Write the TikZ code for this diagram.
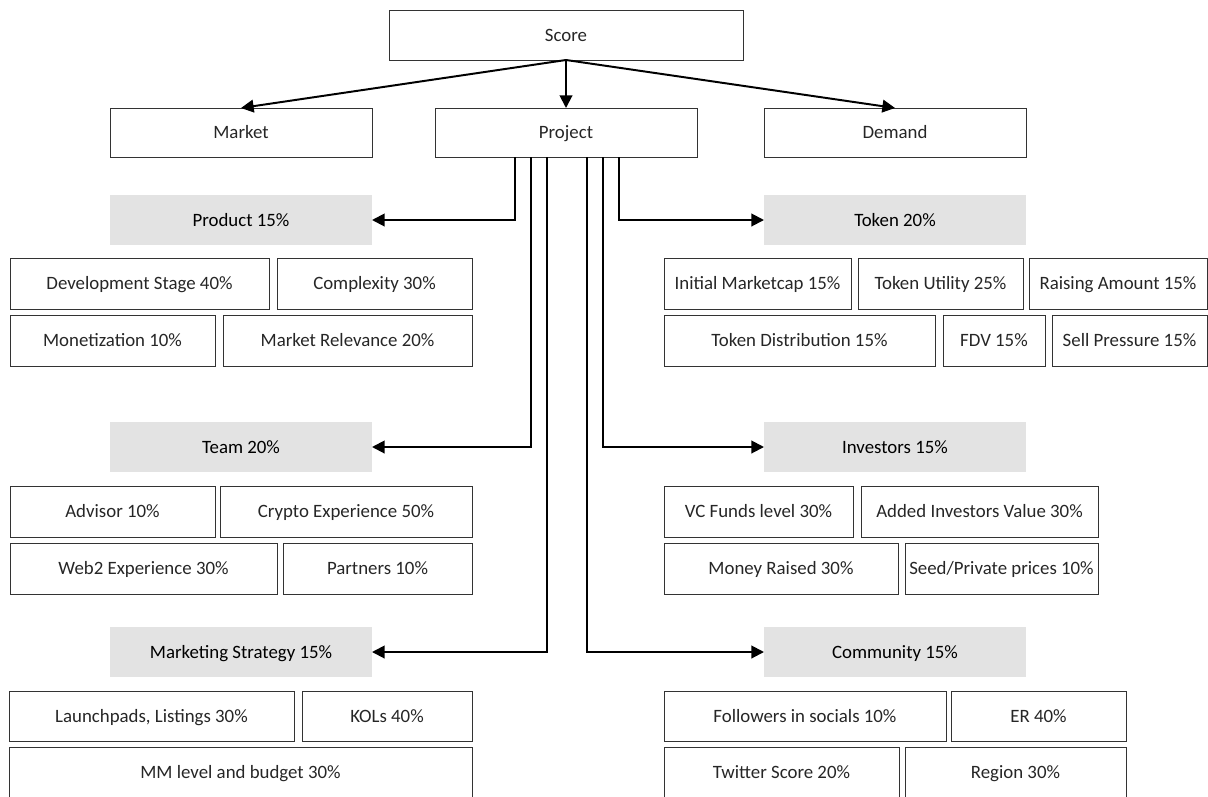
\documentclass[tikz,border=0pt]{standalone}
\usepackage{fontspec}
\setmainfont{Carlito}
\usepackage{tikz}
\usetikzlibrary{arrows.meta, calc}

% box from corner (x1,y1) to corner (x2,y2), in pixels
\newcommand{\cell}[7][box]{%
  \node[#1, minimum width={(#5-#3)*0.025cm}, minimum height={(#6-#4)*0.025cm}]
    (#2) at ({(#3+#5)/2},{(#4+#6)/2}) {#7};}

\begin{document}
\begin{tikzpicture}[x=0.025cm, y=-0.025cm,
    font=\fontsize{13.4}{16}\selectfont,
    box/.style={draw=black!80, line width=0.6pt, text=black!85, inner sep=0pt, outer sep=0pt,
      text height=10.5pt, text depth=1.5pt},
    head/.style={fill=black!11, text=black, inner sep=0pt, outer sep=0pt,
      text height=10.5pt, text depth=1.5pt},
    arr/.style={line width=1.4pt, -{Triangle[length=9pt,width=9pt]}}]
  \useasboundingbox (0,0) rectangle (1208,796);

  % Top levels
  \cell{score}{389}{10}{743}{60}{Score}
  \cell{market}{110}{108}{372}{157}{Market}
  \cell{project}{435}{108}{697}{157}{Project}
  \cell{demand}{764}{108}{1026}{157}{Demand}

  \draw[arr] (score.south) -- (market.north);
  \draw[arr] (score.south) -- (project.north);
  \draw[arr] (score.south) -- (demand.north);

  % Groups
  \cell[head]{product}{110}{195}{372}{245}{Product 15\%}
  \cell[head]{team}{110}{422}{372}{472}{Team 20\%}
  \cell[head]{marketing}{110}{627}{372}{677}{Marketing Strategy 15\%}
  \cell[head]{token}{764}{195}{1026}{245}{Token 20\%}
  \cell[head]{investors}{764}{422}{1026}{472}{Investors 15\%}
  \cell[head]{community}{764}{627}{1026}{677}{Community 15\%}

  \draw[arr] ($(project.south)+(-51,0)$) |- (product.east);
  \draw[arr] ($(project.south)+(-35,0)$) |- (team.east);
  \draw[arr] ($(project.south)+(-19,0)$) |- (marketing.east);
  \draw[arr] ($(project.south)+(21,0)$) |- (community.west);
  \draw[arr] ($(project.south)+(37,0)$) |- (investors.west);
  \draw[arr] ($(project.south)+(53,0)$) |- (token.west);

  % Product
  \cell{devstage}{10}{258}{269}{309}{Development Stage 40\%}
  \cell{complexity}{277}{258}{472}{309}{Complexity 30\%}
  \cell{monetization}{10}{315}{215}{366}{Monetization 10\%}
  \cell{relevance}{223}{315}{472}{366}{Market Relevance 20\%}

  % Token
  \cell{marketcap}{664}{258}{851}{309}{Initial Marketcap 15\%}
  \cell{utility}{858}{258}{1023}{309}{Token Utility 25\%}
  \cell{raising}{1029}{258}{1207}{309}{Raising Amount 15\%}
  \cell{distribution}{664}{315}{935}{366}{Token Distribution 15\%}
  \cell{fdv}{943}{315}{1045}{366}{FDV 15\%}
  \cell{sellpressure}{1052}{315}{1207}{366}{Sell Pressure 15\%}

  % Team
  \cell{advisor}{10}{486}{215}{537}{Advisor 10\%}
  \cell{cryptoexp}{220}{486}{472}{537}{Crypto Experience 50\%}
  \cell{webexp}{10}{543}{277}{594}{Web2 Experience 30\%}
  \cell{partners}{283}{543}{472}{594}{Partners 10\%}

  % Investors
  \cell{vcfunds}{664}{486}{853}{537}{VC Funds level 30\%}
  \cell{addedvalue}{861}{486}{1098}{537}{Added Investors Value 30\%}
  \cell{moneyraised}{664}{543}{898}{594}{Money Raised 30\%}
  \cell{seedprices}{905}{543}{1098}{594}{Seed/Private prices 10\%}

  % Marketing Strategy
  \cell{launchpads}{9}{691}{294}{741}{Launchpads, Listings 30\%}
  \cell{kols}{302}{691}{472}{741}{KOLs 40\%}
  \cell{mmlevel}{9}{747}{472}{797}{MM level and budget 30\%}

  % Community
  \cell{followers}{664}{691}{946}{741}{Followers in socials 10\%}
  \cell{er}{951}{691}{1126}{741}{ER 40\%}
  \cell{twitter}{664}{747}{899}{797}{Twitter Score 20\%}
  \cell{region}{905}{747}{1126}{797}{Region 30\%}
\end{tikzpicture}
\end{document}
